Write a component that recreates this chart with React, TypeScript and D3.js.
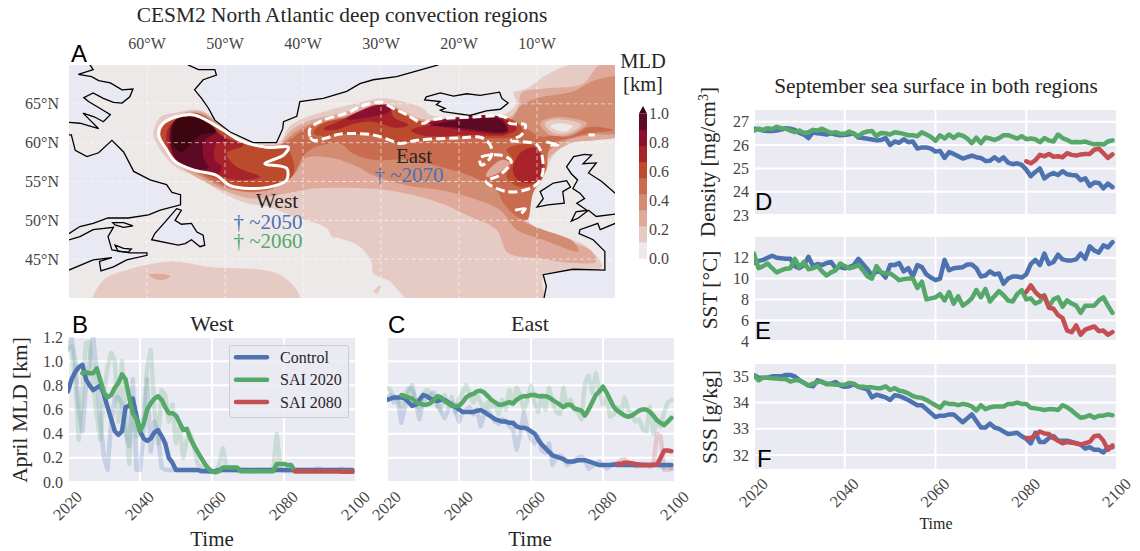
import React from "react";
import * as d3 from "d3";

type Pt = [number, number];

// model years
const years = d3.range(2020, 2100);
const yearTicks = [2020, 2040, 2060, 2080, 2100];

// April mixed layer depth, West [km]
const westControlRaw = [1.1,1.2,1.0,.6,.42,.8,1.0,1.2,.9,.5,.2,.1,.5,.7,.7,.65,.4,.3,.85,.1,.1,.4,.85,.25,.5,.4,.12,.1,.1,.1,.1,.1,.1,.1,.1,.1,.1,.1,.1,.09,.09,.09,.1,.1,.1,.1,.1,.1,.1,.1,.1,.09,.09,.1,.1,.1,.1,.1,.1,.1,.1,.1,.1,.1,.1,.1,.1,.1,.1,.11,.11,.1,.1,.1,.1,.1,.11,.1,.1,.1];
const westSai2020Raw = [1.09,1.12,.85,.35,.75,1.15,1.16,.8,.55,.35,.75,.95,1.07,1.0,.5,1.0,.55,.15,.7,.38,.4,.55,.95,1.09,.6,.32,.76,.72,.5,.64,.32,.45,.2,.35,.4,.3,.15,.12,.1,.09,.08,.09,.14,.28,.12,.1,.1,.09,.09,.09,.09,.09,.09,.09,.09,.09,.09,.09,.4,.1,.09,.09,.09,.09,.09,.09,.09,.09,.09,.09,.09,.09,.09,.09,.09,.09,.09,.09,.09,.09];
const westControl = [.75,.85,.91,.95,.97,.85,.8,.76,.78,.8,.72,.62,.52,.42,.39,.42,.62,.63,.69,.55,.42,.36,.34,.36,.41,.43,.38,.32,.2,.16,.1,.1,.1,.1,.1,.1,.1,.09,.09,.09,.09,.09,.1,.1,.1,.1,.1,.1,.1,.1,.1,.1,.1,.1,.1,.1,.1,.1,.1,.1,.1,.1,.1,.1,.1,.1,.1,.1,.1,.1,.1,.1,.1,.1,.1,.1,.1,.1,.1,.1];
const westSai2020 = [.9,.91,.9,.9,.94,.84,.74,.7,.72,.78,.82,.89,.85,.7,.57,.52,.42,.48,.6,.65,.69,.71,.68,.62,.57,.57,.55,.49,.43,.44,.36,.3,.25,.2,.15,.11,.09,.08,.09,.12,.12,.12,.12,.12,.09,.09,.09,.09,.09,.09,.09,.09,.09,.09,.15,.15,.15,.14,.14,.09,.09,.09,.09,.09,.09,.09,.09,.09,.09,.09,.09,.09,.09,.09,.085,.085];
const westSai2080 = [.09,.09,.09,.09,.09,.09,.09,.09,.09,.09,.09,.09,.09,.085,.085,.085,.085];

// April mixed layer depth, East [km]
const eastControlRaw = [.7,.72,.66,.68,.49,.62,.74,.8,.66,.52,.66,.7,.72,.74,.65,.58,.53,.6,.66,.58,.5,.58,.6,.62,.56,.6,.46,.56,.6,.55,.5,.48,.52,.5,.46,.44,.27,.4,.57,.44,.36,.32,.38,.26,.24,.32,.14,.2,.22,.2,.14,.16,.18,.2,.21,.18,.11,.13,.15,.17,.14,.11,.13,.15,.16,.15,.13,.14,.15,.14,.13,.15,.14,.13,.15,.14,.13,.12,.14,.11];
const eastSai2020Raw = [.78,.76,.7,.68,.62,.72,.78,.76,.66,.6,.72,.76,.74,.68,.62,.6,.72,.64,.7,.58,.68,.74,.8,.72,.66,.72,.66,.6,.66,.62,.64,.56,.68,.6,.76,.64,.78,.72,.6,.68,.8,.66,.58,.72,.6,.78,.66,.58,.56,.78,.62,.68,.6,.58,.52,.82,.88,.74,.9,.76,.64,.7,.54,.56,.62,.56,.7,.6,.56,.5,.52,.44,.42,.62,.4,.52,.46,.58,.66,.68];
const eastSai2080Raw = [.14,.18,.19,.15,.14,.13,.14,.13,.14,.13,.14,.4,.38,.1,.1,.11];
const eastControl = [.68,.69,.7,.7,.7,.69,.66,.63,.64,.68,.72,.71,.69,.68,.67,.68,.68,.66,.64,.62,.6,.58,.58,.58,.58,.59,.595,.58,.56,.54,.52,.51,.5,.5,.49,.49,.46,.45,.45,.44,.42,.4,.35,.31,.28,.25,.22,.21,.2,.19,.17,.17,.17,.18,.18,.18,.17,.16,.15,.14,.14,.14,.14,.145,.14,.14,.145,.14,.14,.14,.14,.14,.14,.14,.14,.14,.14,.14,.14,.14];
const eastSai2020 = [.72,.71,.7,.69,.66,.65,.64,.64,.65,.68,.71,.7,.67,.65,.63,.63,.63,.66,.7,.72,.73,.75,.755,.74,.71,.68,.66,.64,.64,.65,.66,.65,.68,.7,.71,.71,.72,.72,.71,.71,.71,.7,.68,.66,.64,.62,.64,.64,.61,.6,.59,.55,.6,.66,.72,.75,.79,.74,.68,.62,.59,.57,.55,.54,.55,.57,.59,.6,.6,.58,.55,.51,.49,.47,.5,.53];
const eastSai2080 = [.15,.15,.16,.16,.155,.15,.145,.14,.14,.14,.14,.145,.2,.26,.26,.255];

// September surface density
const densityControl = [26.7,26.68,26.62,26.6,26.6,26.62,26.66,26.72,26.7,26.65,26.52,26.45,26.3,26.55,26.5,26.48,26.45,26.5,26.45,26.42,26.43,26.46,26.5,26.32,26.3,26.27,26.24,26.2,26.22,26.3,26.0,26.15,26.1,26.25,26.12,26.15,25.85,25.9,25.9,25.85,25.72,25.75,25.45,25.7,25.62,25.52,25.42,25.48,25.55,25.48,25.45,25.32,25.33,25.48,25.33,25.47,25.25,25.18,25.22,25.15,24.95,24.67,24.85,25.0,24.57,24.72,24.8,24.72,24.88,24.75,24.72,24.7,24.5,24.58,24.25,24.4,24.38,24.15,24.35,24.2];
const densitySai2020 = [26.62,26.7,26.65,26.72,26.68,26.78,26.72,26.7,26.62,26.55,26.62,26.52,26.55,26.65,26.62,26.7,26.6,26.52,26.55,26.48,26.48,26.58,26.48,26.38,26.52,26.58,26.6,26.38,26.52,26.5,26.45,26.55,26.52,26.48,26.42,26.42,26.38,26.55,26.45,26.35,26.18,26.42,26.28,26.45,26.3,26.45,26.4,26.28,26.08,26.32,26.08,26.32,26.28,26.22,26.3,26.42,26.42,26.35,26.28,26.38,26.25,26.28,26.25,26.12,26.3,26.2,26.15,26.45,26.3,26.22,26.12,26.13,26.12,26.15,26.08,26.03,26.05,26.02,26.15,26.2];
const densitySai2080 = [25.3,25.22,25.35,25.58,25.52,25.62,25.5,25.52,25.48,25.65,25.58,25.55,25.6,25.62,25.62,25.8,25.85,25.65,25.45,25.6];

// September surface temperature
const sstControl = [11.5,11.7,11.8,12.0,12.2,12.0,11.95,11.9,11.9,11.2,11.0,11.3,12.1,11.2,11.4,11.3,11.5,11.6,11.0,11.1,11.0,11.1,11.3,11.9,11.4,10.9,10.3,10.7,10.6,10.1,11.3,11.3,11.5,10.7,11.0,10.2,11.3,11.1,10.4,10.1,9.85,10.0,11.8,10.8,11.0,11.05,11.1,11.35,11.35,11.0,10.2,10.3,10.7,10.4,10.5,9.5,10.0,10.2,10.2,10.1,10.4,11.4,11.8,11.3,12.4,11.4,11.6,12.3,11.85,11.75,11.75,11.85,12.4,11.9,13.1,12.7,12.5,13.2,13.0,13.5];
const sstSai2020 = [12.4,11.0,11.2,11.45,11.0,10.6,10.8,10.95,11.0,11.9,11.1,11.6,10.9,11.0,11.2,10.7,10.3,10.6,10.8,11.45,11.2,11.0,11.1,11.3,10.8,10.2,10.0,11.2,10.6,10.5,10.5,10.2,9.85,9.95,10.0,10.0,9.1,9.7,8.0,8.1,8.2,8.5,7.9,8.7,7.6,8.3,7.4,7.7,8.1,8.9,8.2,9.0,7.8,8.3,8.8,8.4,7.9,7.8,8.5,8.9,8.0,8.1,7.6,7.8,8.4,7.3,8.0,8.2,7.3,7.9,7.6,7.4,6.7,7.4,7.4,7.4,7.9,8.2,7.4,6.7];
const sstSai2080 = [8.7,9.35,8.7,8.3,8.3,7.2,7.1,6.5,6.2,5.0,4.85,5.5,4.6,5.1,5.25,5.4,4.95,5.0,4.6,4.85];

// September surface salinity
const sssControl = [35.05,34.95,34.95,34.95,35.0,35.0,35.0,35.05,35.05,35.0,34.85,34.75,34.65,34.62,34.85,34.78,34.72,34.72,34.78,34.65,34.6,34.62,34.7,34.6,34.55,34.5,34.2,34.3,34.25,34.2,34.1,34.28,34.25,34.18,34.1,34.0,33.9,33.9,33.75,33.6,33.45,33.5,33.5,33.55,33.55,33.4,33.25,33.4,33.55,33.3,33.05,33.05,33.2,33.05,33.0,32.9,32.8,32.82,32.85,32.72,32.62,32.45,32.85,32.5,32.5,32.65,32.72,32.55,32.55,32.55,32.5,32.45,32.4,32.25,32.3,32.2,32.2,32.1,32.3,32.3];
const sssSai2020 = [35.05,34.85,34.95,34.95,34.93,34.92,34.9,34.9,34.8,34.85,34.85,34.75,34.65,34.72,34.78,34.8,34.7,34.7,34.68,34.68,34.68,34.75,34.72,34.6,34.6,34.58,34.58,34.55,34.55,34.62,34.48,34.55,34.45,34.42,34.35,34.25,34.2,34.18,34.1,34.0,33.9,33.8,34.0,33.95,33.95,33.9,33.95,33.92,33.85,33.7,33.9,33.75,33.82,33.85,33.85,33.85,33.95,33.95,34.0,33.95,33.95,33.8,33.78,33.75,33.72,33.75,33.75,33.72,33.9,33.82,33.7,33.55,33.42,33.45,33.52,33.42,33.5,33.5,33.55,33.52];
const sssSai2080 = [32.65,32.65,32.75,32.9,32.82,32.8,32.65,32.55,32.45,32.5,32.47,32.45,32.4,32.45,32.5,32.72,32.75,32.55,32.2,32.37];

// map: coast outlines, lon/lat
const baffin: Pt[] = [[-67.3,71],[-67.3,70],[-66.9,69.4],[-68.8,68.8],[-67.1,68.5],[-66.2,68],[-64.7,67.7],[-63.2,66.8],[-61.8,66.9],[-62.2,65.9],[-63.2,65.1],[-64.3,65.2],[-65.6,65.7],[-66.9,66.4],[-68.1,65.8],[-67.5,65.3],[-66,64.4],[-64.7,63.6],[-65.6,62.7],[-66.7,63.3],[-68.2,63.8],[-67.3,62.9],[-66.2,61.8],[-68.6,62.5],[-70,62.6],[-71,62.6],[-71,71]];
const quebec: Pt[] = [[-71,61],[-69.7,61],[-69.2,59],[-67.7,58.2],[-66.2,58.7],[-64.5,60.3],[-63,58.8],[-61.7,56.3],[-59.6,55.2],[-57.5,54.6],[-56.8,53.6],[-55.7,53.3],[-55.7,52],[-58.3,51.3],[-59.8,50.7],[-62.4,50.3],[-65,50.3],[-66.9,49.6],[-68.6,49.2],[-70,48.3],[-71,48.3]];
const maritimes: Pt[] = [[-71,47.2],[-68.6,47.9],[-66.9,48.8],[-64.3,49.1],[-65,47.9],[-64.5,46.2],[-62.2,45.8],[-60,45.8],[-60,45.5],[-62.6,44.9],[-64.3,44],[-65.9,43.5],[-66.1,44.7],[-64.5,45.2],[-66.9,44.9],[-70,43.6],[-71,43.6]];
const anticosti: Pt[] = [[-64.4,49.7],[-63,49.7],[-61.8,49.3],[-63,49.1],[-64.1,49.4]];
const princeEdward: Pt[] = [[-64.1,46.8],[-63,46.4],[-62,46.3],[-62.4,45.9],[-63.7,46]];
const newfoundland: Pt[] = [[-56.2,51.5],[-55.6,51.3],[-56.4,50],[-55.6,49.5],[-54.3,49.6],[-53.6,48.5],[-52.8,48.1],[-52.6,46.8],[-53.2,46.6],[-54.3,47.5],[-55.1,47],[-56,46.8],[-59.4,47.5],[-59,48.3],[-57.5,50]];
const greenland: Pt[] = [[-54.7,71],[-54.7,70],[-53.4,69.4],[-51.3,69.4],[-51.1,68.7],[-52.8,68.1],[-53.9,66.8],[-53,65.7],[-52.1,64.4],[-51.3,62.9],[-49.4,61.4],[-46.4,60],[-43.4,60],[-42.6,61.8],[-42.5,62.7],[-40.8,63.4],[-40.4,65.3],[-37.4,65.7],[-34.4,66.6],[-32.7,67.6],[-31,68.1],[-28,68.5],[-22.7,70],[-22.7,71]];
const iceland: Pt[] = [[-24.2,65.9],[-22.4,66.4],[-20.7,66],[-19,66.3],[-17.3,66.1],[-14.8,66.5],[-14.5,65.7],[-13.7,65.1],[-14.7,64.3],[-16.5,64.1],[-18.6,63.5],[-20.7,63.8],[-22,64],[-22.4,64.2],[-21.8,64.4],[-22.9,64.9],[-22.4,65.3],[-24.4,65.5]];
const ireland: Pt[] = [[-9.6,53.7],[-7.9,54.8],[-6.2,55.1],[-5.7,54.3],[-6.7,53.7],[-6.5,52.2],[-8.6,52],[-10,51.7],[-9.2,52.8]];
const britain: Pt[] = [[-6.2,56.9],[-5.3,58.2],[-3.9,58.5],[-3,58.4],[-4.1,57.3],[-2.4,57.4],[-3.4,56.1],[-1.7,55],[0,53.5],[1,53.5],[1,50.8],[0,50.8],[-2.4,50.5],[-3.4,51.3],[-4.7,50.3],[-5.6,49.9],[-5,51.1],[-3.6,51.3],[-4.9,52.2],[-3.9,52.8],[-4.5,53.5],[-5.4,54.1],[-4.8,55.2],[-5.6,56]];
const iberiaFrance: Pt[] = [[1,49.6],[0,49.6],[-1.9,48.8],[-2.2,49.6],[-4.5,48.8],[-4.6,48.3],[-2.8,47.5],[-1.3,46],[-1.3,43.6],[-5.4,43.7],[-9.2,43],[-8.8,41.5],[-9.1,40],[-9.1,39],[1,39]];
const coasts = [baffin, quebec, maritimes, anticosti, princeEdward, newfoundland, greenland, iceland, ireland, britain, iberiaFrance];

// map: filled MLD contours, lon/lat
const mldMain1: Pt[] = [[-5.8,70],[1,70],[1,61.6],[-2.4,60.3],[-5.8,60.1],[-8,58.2],[-8.8,56.5],[-9.8,54.3],[-10.9,53.5],[-11.1,50],[-10.7,49.2],[-8,48.3],[-3.6,46.6],[-1.7,44],[-5.4,43.2],[-9.2,42.7],[-9.2,39],[-25.4,39],[-27.8,41],[-28.8,42.1],[-31,43.2],[-31.2,44.5],[-32.7,46.6],[-35.3,47.7],[-36.3,47.9],[-37,49],[-41.2,50.5],[-44.7,51.8],[-47.2,52.2],[-50.2,53.5],[-53.2,55.4],[-56.4,56.9],[-58.3,59.1],[-59.2,61],[-58.3,63.3],[-56.2,63.9],[-53.2,64.2],[-50.6,62.5],[-48.1,60.6],[-44.7,59.9],[-43,60.1],[-41.7,62.1],[-40,63.1],[-38.7,63.6],[-33,65.1],[-30.1,65.7],[-27.2,65.3],[-24.6,64.4],[-23.7,63.6],[-18.2,63.1],[-13.9,63.8],[-12.6,65.1],[-13,66.4],[-11.3,67],[-8.8,68.7]];
const mldSouthwest1: Pt[] = [[-66.9,39],[-65.6,42.3],[-62.6,43.6],[-57,44.7],[-51.9,44],[-43.4,43.2],[-40.8,41],[-40.4,39]];
const mldIslet1: Pt[] = [[-31,40.8],[-30,41.7],[-30.4,40.6]];
const mldMain2: Pt[] = [[-2,70],[1,70],[1,61.2],[-2.8,60.3],[-5.8,59.9],[-9.2,57.3],[-10.3,54.8],[-11.3,53],[-11.5,50],[-10.9,49.6],[-8,47.9],[-3.2,46.2],[-2.4,44.7],[-5.4,44.5],[-9.6,45.1],[-13.7,45.8],[-15.2,48.8],[-18.6,50.5],[-22.9,52.4],[-29.3,53.9],[-35.3,54.2],[-38.7,54.1],[-42.1,53.5],[-46.4,52.8],[-49.8,53.7],[-54.1,55.8],[-57.5,58.6],[-58.4,60.8],[-57.9,62.7],[-56.2,63.6],[-53.2,64],[-50.6,62.3],[-48.1,60.3],[-44.7,59.7],[-43,59.9],[-41.5,61.6],[-39.5,62.7],[-33,64.4],[-31,65.3],[-28,64.6],[-25,63.1],[-18.2,62.9],[-13.5,63.3],[-12.4,64.6],[-12,66.4],[-8.8,67],[-4.1,67.6]];
const mldSouthwest2: Pt[] = [[-59.8,43],[-57.9,43.1],[-57,42.8],[-58.3,42.3]];
const mldMain3: Pt[] = [[1,68.3],[1,61.6],[-3.2,61],[-6.2,60.3],[-9.2,58.2],[-10,55.6],[-11.3,53.5],[-12.4,50.5],[-11.3,49.6],[-9.2,48.8],[-5.4,47.3],[-4.7,46],[-9.2,47.5],[-12.6,48.8],[-14.7,51.3],[-18.2,52.8],[-22.4,53.9],[-26.7,54.5],[-31,55.8],[-33,56.9],[-36.1,58],[-39.7,58],[-41.2,55.8],[-45.5,53.7],[-49.8,54.1],[-54.1,56.3],[-57.3,58.8],[-58.1,61],[-57.7,62.5],[-56.2,63.3],[-53.2,63.8],[-50.6,62.1],[-48.1,60.1],[-44.7,59.5],[-43,59.7],[-41.2,61.2],[-39.3,62.3],[-33,63.9],[-31,64.8],[-28.4,64.2],[-25.2,62.7],[-18.2,62.5],[-13.5,62.9],[-12,64.8],[-9.2,65.9],[-5.4,66.6],[-2.4,68.1]];
const mldSpotRing2: Pt[] = [[-9.6,62.5],[-7.5,63.3],[-3.6,62.5],[-5.8,61],[-8.3,61]];
const mldSpotRing1: Pt[] = [[-9,62.5],[-7.5,63],[-4.3,62.3],[-6,61.2],[-8,61.3]];
const mldSpotCore0: Pt[] = [[-8.3,62.1],[-7.3,62.5],[-5.4,62.1],[-6.6,61.4]];
const mldMain4: Pt[] = [[-0.2,61.6],[-3.2,61.2],[-5.8,60.6],[-8,59.9],[-8.6,58.6],[-8.8,56.5],[-10.5,53.5],[-11.3,50],[-12.6,50.5],[-14.3,52.2],[-15.2,53.9],[-18.2,55.6],[-22.4,56.9],[-26.7,57.8],[-31,57.8],[-33.6,58.6],[-35.3,59.9],[-38.7,59.3],[-40,58.2],[-41.2,56],[-43.8,54.1],[-47.2,53.7],[-50.2,54.5],[-53.2,56],[-56.8,58.4],[-57.8,61],[-57.5,62.3],[-56.2,63.1],[-53.2,63.6],[-50.6,61.9],[-48.1,60],[-44.7,59.4],[-43,59.6],[-41,60.9],[-39.1,62.1],[-33,63.4],[-31,64.4],[-28.6,63.8],[-25.2,62.3],[-18.2,62.1],[-13.5,62.5],[-11.3,61.8],[-9.6,60.8],[-8,60.9],[-5.8,60.8],[-3.4,62],[-0.7,61.8]];
const mldEastHole2: Pt[] = [[-16.5,55.6],[-15.2,56],[-13.5,57.3],[-14.3,57.8],[-15.4,57.3],[-16.5,56]];
const mldWest5: Pt[] = [[-58.3,61],[-57.9,62.3],[-56.4,63.3],[-53.6,63.8],[-50.6,61.9],[-48.1,60.3],[-44.7,59.6],[-42.1,59.3],[-41.2,56],[-43.8,54.3],[-48.1,54.1],[-50.2,55],[-54.1,56.5],[-56.6,57.8],[-57.7,59.3]];
const mldEast5: Pt[] = [[-38.7,61.2],[-37.4,62.5],[-33,63.6],[-31,64.8],[-28.6,64.6],[-25.4,62.9],[-22.9,62.9],[-14.3,63.3],[-12.2,62.3],[-11.8,61],[-13.9,60.6],[-16.5,60.6],[-20.3,60.6],[-25.4,60.3],[-27.6,59.9],[-28.8,60.3],[-31,61],[-35.3,61.1],[-37,60.8]];
const mldRockall5: Pt[] = [[-13.9,59.1],[-10.5,59.7],[-9,57.3],[-9.6,55],[-12.2,54.3],[-13.9,55.6],[-13.1,57.8]];
const mldWest6: Pt[] = [[-57.5,61.2],[-56.4,62.9],[-53.2,63.3],[-50.2,60.8],[-47.6,59.7],[-49.8,58.6],[-48.5,56.9],[-45.5,55.6],[-47.2,55.2],[-49.8,55.4],[-52.8,56.5],[-55.8,57.3],[-57,58.6]];
const mldIrminger6: Pt[] = [[-37.4,61.8],[-35.5,62.7],[-32.3,64.2],[-28.9,64.8],[-28.4,63.3],[-26.5,62.3],[-28,61.9],[-31,62.7],[-33.6,62.4],[-36,61.6]];
const mldIceland6: Pt[] = [[-26.1,61.6],[-23.7,62.3],[-17.3,63.1],[-14.3,63.1],[-12.6,61.8],[-14.1,61],[-18.2,61],[-24.6,60.9]];
const mldRockall6: Pt[] = [[-13.1,56.5],[-12,58.8],[-10.1,59.3],[-9.2,56.9],[-10,55],[-12.2,55]];
const mldWest7: Pt[] = [[-57,61],[-56.2,62.9],[-53.2,63],[-50.6,61],[-49.8,60.3],[-51.1,59.9],[-51.3,57.8],[-50.4,56.9],[-51.1,55.8],[-54.1,56.7],[-56.2,57.8],[-56.8,59.3]];
const mldIrminger7: Pt[] = [[-34.4,63],[-31.4,64.6],[-29,64.8],[-28.9,64],[-31.4,63.3]];
const mldIceland7: Pt[] = [[-23.9,62.5],[-14.8,63.3],[-13.7,61.4],[-20.7,61.8]];
const mldWest8: Pt[] = [[-57.1,61.2],[-56.2,63],[-53.2,63.1],[-51.1,61.4],[-52.6,60.3],[-52.8,58.2],[-52.1,56.7],[-54.5,56.8],[-56.4,58]];
const mldIceland8: Pt[] = [[-23.7,62.2],[-14.8,63],[-13.9,61.5],[-20.5,62]];
const mldWest9: Pt[] = [[-56.8,61],[-56.2,63],[-53.2,63.1],[-51.3,61.4],[-53.2,61],[-55.6,58.8],[-56.6,59.7]];
const contourBands: [number, Pt[]][] = [
  [1, mldMain1], [1, mldSouthwest1], [1, mldIslet1],
  [2, mldMain2], [2, mldSouthwest2],
  [3, mldMain3], [2, mldSpotRing2], [1, mldSpotRing1], [0, mldSpotCore0],
  [4, mldMain4],
  [5, mldWest5], [5, mldEast5], [5, mldRockall5], [2, mldEastHole2],
  [6, mldWest6], [6, mldIrminger6], [6, mldIceland6], [6, mldRockall6],
  [7, mldWest7], [7, mldIrminger7], [7, mldIceland7],
  [8, mldWest8], [8, mldIceland8],
  [9, mldWest9],
];

// convection region outlines
const westRegion: Pt[] = [[-58.5,61],[-58.1,62.3],[-56.4,63.3],[-54.1,63.6],[-52.4,62.9],[-50.2,61.6],[-48.1,60.3],[-44.7,59.4],[-41.9,59.4],[-42.5,58.4],[-44.9,57.3],[-42.1,56.7],[-42.1,55.2],[-43.8,54.4],[-46.8,54.1],[-49.4,54.5],[-51.1,55.8],[-54.1,56.5],[-56.4,57.6],[-57.5,59.1]];
const eastRegion: Pt[] = [[-38.7,60.3],[-39.1,60.8],[-39.1,61.8],[-37.4,62.9],[-34.4,63.8],[-32.7,64.6],[-30.1,65.2],[-28.4,64.4],[-26.7,63.6],[-24.6,62.5],[-23.7,62.9],[-18.2,63.3],[-14.1,63.3],[-13.5,62.5],[-11.5,62.3],[-12,61],[-13.3,60.3],[-10,59.7],[-9.2,56.9],[-9.6,55.2],[-10.9,54.1],[-13.9,53.7],[-16.5,55],[-14.8,55.8],[-13.3,57.6],[-14.8,58.4],[-17.3,58],[-17.1,57.1],[-15.9,58.2],[-15.9,59.5],[-17,60.6],[-20.3,60.6],[-25.4,60.3],[-27.6,59.9],[-28.8,60.3],[-31,61],[-35.3,61.1],[-37,60.6]];
const eastRegionBits: Pt[][] = [[[-12.8,51.3],[-11.5,51.5],[-12,50.9]], [[-8.8,60.1],[-7.3,59.7],[-8.3,59.7]], [[-3.4,61],[-2.6,61]]];

const lonTicks = [-60, -50, -40, -30, -20, -10];
const latTicks = [45, 50, 55, 60, 65];
const mldColors = ["#eee9e9", "#e6cbc5", "#dfaa9b", "#d18c72", "#c96b4f", "#bc4a2d", "#a8232a", "#8b0f2f", "#5c0a24", "#3c050f"];
const cbarTicks = [0, 0.2, 0.4, 0.6, 0.8, 1.0];
const mldTicks = [0, 0.2, 0.4, 0.6, 0.8, 1.0, 1.2];

const BLUE = "#4C72B0", GREEN = "#55A868", RED = "#C44E52", PANEL = "#EAEAF2", INK = "#262626", TICK = "#444";
const SERIF = "'Liberation Serif', serif", SANS = "'Liberation Sans', sans-serif";

type Series = { values: number[]; start: number; color: string; faint?: boolean };
type PanelProps = {
  id: string; box: [number, number, number, number]; domain: [number, number]; yTicks: number[];
  yLabels: boolean; xLabels: boolean; series: Series[];
};

function Panel({ id, box, domain, yTicks, yLabels, xLabels, series }: PanelProps) {
  const [x0, x1, y0, y1] = box;
  const x = d3.scaleLinear().domain([2020, 2100]).range([x0, x1]);
  const y = d3.scaleLinear().domain(domain).range([y1, y0]);
  return (
    <g>
      <clipPath id={id}><rect x={x0} y={y0} width={x1 - x0} height={y1 - y0} /></clipPath>
      <rect x={x0} y={y0} width={x1 - x0} height={y1 - y0} fill={PANEL} />
      {yearTicks.map((t) => <line key={t} x1={x(t)} x2={x(t)} y1={y0} y2={y1} stroke="#fff" strokeWidth={2} />)}
      {yTicks.map((t) => <line key={t} x1={x0} x2={x1} y1={y(t)} y2={y(t)} stroke="#fff" strokeWidth={2} />)}
      <g clipPath={`url(#${id})`}>
        {series.map((s, i) => {
          const path = d3.line<number>().x((_, k) => x(s.start + k)).y((v) => y(v));
          return <path key={i} d={path(s.values) || ""} fill="none" stroke={s.color} strokeWidth={s.faint ? 4.5 : 4.5}
            strokeOpacity={s.faint ? 0.22 : 1} strokeLinejoin="round" strokeLinecap="round" />;
        })}
      </g>
      {yLabels && yTicks.map((t) => (
        <text key={t} x={x0 - 5} y={y(t) + 5.5} textAnchor="end" fontSize={16} fill={TICK}>
          {Number.isInteger(t) && domain[1] > 2 ? t : t.toFixed(1)}
        </text>
      ))}
      {xLabels && yearTicks.map((t) => (
        <text key={t} transform={`translate(${x(t)},${y1 + 24}) rotate(-45)`} textAnchor="middle" dy={5} fontSize={16.5} fill={TICK}>{t}</text>
      ))}
    </g>
  );
}

function MapPanel() {
  const lon = d3.scaleLinear().domain([-70, 0]).range([69, 615]);
  const lat = d3.scaleLinear().domain([40, 70]).range([298, 65]);
  const smooth = d3.line<Pt>().x((d) => lon(d[0])).y((d) => lat(d[1])).curve(d3.curveCatmullRomClosed.alpha(0.5));
  const straight = d3.line<Pt>().x((d) => lon(d[0])).y((d) => lat(d[1])).curve(d3.curveLinearClosed);
  const open = d3.line<Pt>().x((d) => lon(d[0])).y((d) => lat(d[1])).curve(d3.curveCatmullRom.alpha(0.5));
  return (
    <g>
      <clipPath id="map"><rect x={69} y={65} width={546} height={233} /></clipPath>
      <g clipPath="url(#map)">
        <rect x={69} y={65} width={546} height={233} fill={mldColors[0]} />
        {contourBands.map(([level, pts], i) => <path key={i} d={smooth(pts) || ""} fill={mldColors[level]} />)}
        {coasts.map((c, i) => <path key={i} d={straight(c) || ""} fill="#E8E9F2" />)}
        {lonTicks.map((t) => <line key={t} x1={lon(t)} x2={lon(t)} y1={65} y2={298} stroke="#fff" strokeOpacity={0.6} strokeDasharray="4 3" />)}
        {latTicks.map((t) => <line key={t} x1={69} x2={615} y1={lat(t)} y2={lat(t)} stroke="#fff" strokeOpacity={0.6} strokeDasharray="4 3" />)}
        {coasts.map((c, i) => <path key={i} d={straight(c) || ""} fill="none" stroke="#000" strokeWidth={1.3} />)}
        <path d={smooth(westRegion) || ""} fill="none" stroke="#fff" strokeWidth={3} />
        <path d={smooth(eastRegion) || ""} fill="none" stroke="#fff" strokeWidth={3} strokeDasharray="9 4" />
        {eastRegionBits.map((b, i) => <path key={i} d={open(b) || ""} fill="none" stroke="#fff" strokeWidth={3} />)}
      </g>
      {lonTicks.map((t) => <text key={t} x={lon(t)} y={49} textAnchor="middle" fontSize={16} fill={TICK}>{`${-t}°W`}</text>)}
      {latTicks.map((t) => <text key={t} x={59} y={lat(t) + 5.5} textAnchor="end" fontSize={16} fill={TICK}>{`${t}°N`}</text>)}
      <text x={277} y={208} textAnchor="middle" fontSize={21.5} fill={INK}>West</text>
      <text x={268} y={229} textAnchor="middle" fontSize={21} fill={BLUE}>† ~2050</text>
      <text x={268} y={248} textAnchor="middle" fontSize={21} fill={GREEN}>† ~2060</text>
      <text x={414} y={163} textAnchor="middle" fontSize={21} fill={INK}>East</text>
      <text x={409} y={182} textAnchor="middle" fontSize={21} fill={BLUE}>† ~2070</text>
    </g>
  );
}

function ColorBar() {
  const y = d3.scaleLinear().domain([0, 1]).range([258, 113.5]);
  const step = 1 / 9;
  return (
    <g>
      {mldColors.slice(0, 9).map((c, i) => (
        <rect key={i} x={639} y={y((i + 1) * step)} width={8} height={y(i * step) - y((i + 1) * step) + 0.5} fill={c} />
      ))}
      <path d={d3.line()([[639, 113.5], [643, 106], [647, 113.5]]) + "Z"} fill={mldColors[9]} />
      {cbarTicks.map((t) => <text key={t} x={649} y={y(t) + 5.5} fontSize={16} fill={TICK}>{t.toFixed(1)}</text>)}
      <text x={643} y={68} textAnchor="middle" fontSize={20.5} fill={INK}>MLD</text>
      <text x={643} y={91} textAnchor="middle" fontSize={20.5} fill={INK}>[km]</text>
    </g>
  );
}

function Legend() {
  const rows: [string, string][] = [["Control", BLUE], ["SAI 2020", GREEN], ["SAI 2080", RED]];
  return (
    <g>
      <rect x={229.5} y={345.5} width={119} height={72} rx={2} fill={PANEL} fillOpacity={0.85} stroke="#ccc" />
      {rows.map(([name, color], i) => (
        <g key={name}>
          <line x1={236} x2={267} y1={357.3 + i * 22.4} y2={357.3 + i * 22.4} stroke={color} strokeWidth={4.5} strokeLinecap="round" />
          <text x={280} y={362.8 + i * 22.4} fontSize={16} fill={INK}>{name}</text>
        </g>
      ))}
    </g>
  );
}

const PanelLetter = ({ x, y, t }: { x: number; y: number; t: string }) => (
  <text x={x} y={y} fontFamily={SANS} fontSize={24} fill="#000">{t}</text>
);

export default function App() {
  return (
    <svg width={1140} height={551} fontFamily={SERIF} style={{ position: "absolute", left: 0, top: 0, display: "block" }}>
      <rect width={1140} height={551} fill="#fff" />
      <text x={342} y={22} textAnchor="middle" fontSize={21.4} fill={INK}>CESM2 North Atlantic deep convection regions</text>
      <MapPanel />
      <ColorBar />
      <Panel id="west" box={[68, 356, 337, 482]} domain={[0, 1.2]} yTicks={mldTicks} yLabels xLabels series={[
        { values: westControlRaw, start: 2020, color: BLUE, faint: true },
        { values: westSai2020Raw, start: 2020, color: GREEN, faint: true },
        { values: westControl, start: 2020, color: BLUE },
        { values: westSai2020, start: 2024, color: GREEN },
        { values: westSai2080, start: 2083, color: RED },
      ]} />
      <Legend />
      <Panel id="east" box={[387, 675, 337, 482]} domain={[0, 1.2]} yTicks={mldTicks} yLabels={false} xLabels series={[
        { values: eastControlRaw, start: 2020, color: BLUE, faint: true },
        { values: eastSai2020Raw, start: 2020, color: GREEN, faint: true },
        { values: eastSai2080Raw, start: 2084, color: RED, faint: true },
        { values: eastControl, start: 2020, color: BLUE },
        { values: eastSai2020, start: 2024, color: GREEN },
        { values: eastSai2080, start: 2084, color: RED },
      ]} />
      <Panel id="rho" box={[754, 1117, 110, 214]} domain={[23.05, 27.5]} yTicks={[23, 24, 25, 26, 27]} yLabels xLabels={false} series={[
        { values: densityControl, start: 2020, color: BLUE },
        { values: densitySai2020, start: 2020, color: GREEN },
        { values: densitySai2080, start: 2080, color: RED },
      ]} />
      <Panel id="sst" box={[754, 1117, 237, 341]} domain={[4, 14]} yTicks={[4, 6, 8, 10, 12]} yLabels xLabels={false} series={[
        { values: sstControl, start: 2020, color: BLUE },
        { values: sstSai2020, start: 2020, color: GREEN },
        { values: sstSai2080, start: 2080, color: RED },
      ]} />
      <Panel id="sss" box={[754, 1117, 364, 469]} domain={[31.47, 35.47]} yTicks={[32, 33, 34, 35]} yLabels xLabels series={[
        { values: sssControl, start: 2020, color: BLUE },
        { values: sssSai2020, start: 2020, color: GREEN },
        { values: sssSai2080, start: 2080, color: RED },
      ]} />
      <text x={212} y={331} textAnchor="middle" fontSize={22} fill={INK}>West</text>
      <text x={530} y={331} textAnchor="middle" fontSize={22} fill={INK}>East</text>
      <text x={936} y={93} textAnchor="middle" fontSize={21.3} fill={INK}>September sea surface in both regions</text>
      <text x={212} y={546} textAnchor="middle" fontSize={21} fill={INK}>Time</text>
      <text x={530} y={546} textAnchor="middle" fontSize={21} fill={INK}>Time</text>
      <text x={936} y={529} textAnchor="middle" fontSize={16} fill={INK}>Time</text>
      <text transform="translate(27,410) rotate(-90)" textAnchor="middle" fontSize={21.5} fill={INK}>April MLD [km]</text>
      <text transform="translate(715,162) rotate(-90)" textAnchor="middle" fontSize={21} fill={INK}>Density [mg/cm<tspan dy={-7} fontSize={14}>3</tspan><tspan dy={7}>]</tspan></text>
      <text transform="translate(717,290) rotate(-90)" textAnchor="middle" fontSize={21.3} fill={INK}>SST [°C]</text>
      <text transform="translate(717,417) rotate(-90)" textAnchor="middle" fontSize={21.5} fill={INK}>SSS [g/kg]</text>
      <PanelLetter x={71} y={62} t="A" />
      <PanelLetter x={72} y={333} t="B" />
      <PanelLetter x={388} y={333} t="C" />
      <PanelLetter x={755} y={210} t="D" />
      <PanelLetter x={755} y={339} t="E" />
      <PanelLetter x={757} y={467} t="F" />
    </svg>
  );
}
